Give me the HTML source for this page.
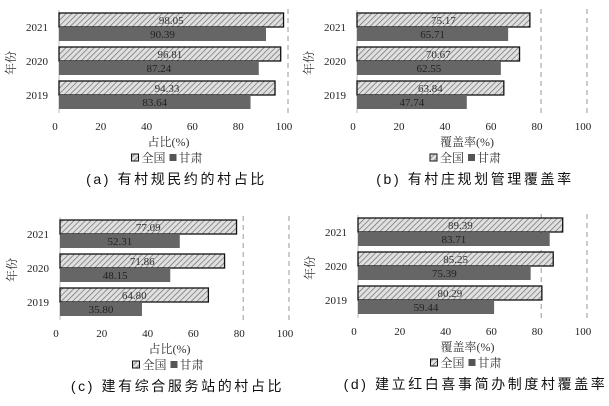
<!DOCTYPE html>
<html><head><meta charset="utf-8"><style>
body{margin:0;background:#fff;width:609px;height:401px;overflow:hidden}
svg text{font-family:"Liberation Serif","Noto Serif CJK SC",serif}
.cap{font-family:"Liberation Sans","Noto Sans CJK SC",sans-serif;font-size:14px;letter-spacing:2.6px}
</style></head><body>
<svg id="c" width="609" height="401" xmlns="http://www.w3.org/2000/svg">
<defs><pattern id="h" width="4" height="4" patternUnits="userSpaceOnUse" patternTransform="rotate(45)"><rect width="4" height="4" fill="#e0e0e0"/><line x1="0" y1="0" x2="0" y2="4" stroke="#666" stroke-width="1.3"/></pattern></defs>
</svg>
<script>
const years=["2021","2020","2019"];
const tickLabels=["0","20","40","60","80","100"];
const tickValues=[0,20,40,60,80,100];
const nationA=[98.05,96.81,94.33], gansuA=[90.39,87.24,83.64];
const nationB=[75.17,70.67,63.84], gansuB=[65.71,62.55,47.74];
const nationC=[77.09,71.86,64.80], gansuC=[52.31,48.15,35.80];
const nationD=[89.39,85.25,80.29], gansuD=[83.71,75.39,59.44];
const svg=document.getElementById('c');
const NS="http://www.w3.org/2000/svg";
function mk(t,a,p){const e=document.createElementNS(NS,t);for(const k in a)e.setAttribute(k,a[k]);(p||svg).appendChild(e);return e;}
function panel(id,x0,x100,top,nat,gan,xlab,cap,dashes){
 const g=mk('g',{});
 
 
 const x=v=>x0+(x100-x0)*v/100;
 dashes.forEach(d=>{const l=mk('line',{x1:x(d),x2:x(d),y1:top-4,y2:top+100,stroke:'#999','stroke-dasharray':'5,4'},g);
  });
 const ax=mk('line',{x1:x0,x2:x0,y1:top-3,y2:top+100,stroke:'#bbb'},g);
 
 years.forEach((yr,i)=>{
  const y=top+i*34;
  const r1=mk('rect',{x:x0,y:y,width:x(nat[i])-x0,height:14,fill:'url(#h)',stroke:'#111','stroke-width':1.3},g);
  
  const r2=mk('rect',{x:x0,y:y+15,width:x(gan[i])-x0,height:13,fill:'#666'},g);
  
  const t1=mk('text',{x:x0+(x(nat[i])-x0)/2,y:y+11,'font-size':11,'text-anchor':'middle',fill:'#333'},g);t1.textContent=nat[i].toFixed(2);
  
  const t2=mk('text',{x:x0+(x(gan[i])-x0)/2,y:y+25,'font-size':11,'text-anchor':'middle',fill:'#222'},g);t2.textContent=gan[i].toFixed(2);
  
  const yl=mk('text',{x:x0-11,y:y+18,'font-size':11,'text-anchor':'end',fill:'#222'},g);yl.textContent=yr;
  
 });
 tickValues.forEach((v,i)=>{const t=mk('text',{x:x(v)-4,y:top+117,'font-size':11,'text-anchor':'middle',fill:'#222'},g);t.textContent=tickLabels[i];
  });
 const yt=mk('text',{x:x0-44,y:top+50,'font-size':12,'text-anchor':'middle',fill:'#333',transform:`rotate(-90 ${x0-44} ${top+50})`},g);yt.textContent='年份';
 
 const mid=(x0+x100)/2-5;
 const xt=mk('text',{x:mid,y:top+133,'font-size':12,'text-anchor':'middle',fill:'#333'},g);xt.textContent=xlab;
 
 const lg=mk('g',{},g);
 mk('rect',{x:mid-37,y:top+141,width:7,height:7,fill:'url(#h)',stroke:'#111'},lg);
 const l1=mk('text',{x:mid-27,y:top+149,'font-size':12,fill:'#333'},lg);l1.textContent='全国';
 mk('rect',{x:mid+1,y:top+141,width:7,height:7,fill:'#555'},lg);
 const l2=mk('text',{x:mid+10,y:top+149,'font-size':12,fill:'#333'},lg);l2.textContent='甘肃';
 const c=mk('text',{x:mid+8,y:top+171,'text-anchor':'middle',fill:'#111',class:'cap'},g);c.textContent=cap;
 
}
panel('a',59,288,13,nationA,gansuA,'占比(%)','(a)  有村规民约的村占比',[100]);
panel('b',357,587,13,nationB,gansuB,'覆盖率(%)','(b)  有村庄规划管理覆盖率',[80,100]);
panel('c',60,289,220,nationC,gansuC,'占比(%)','(c)  建有综合服务站的村占比',[80,100]);
panel('d',358,587,218,nationD,gansuD,'覆盖率(%)','(d)  建立红白喜事简办制度村覆盖率',[80,100]);
</script>
</body></html>
